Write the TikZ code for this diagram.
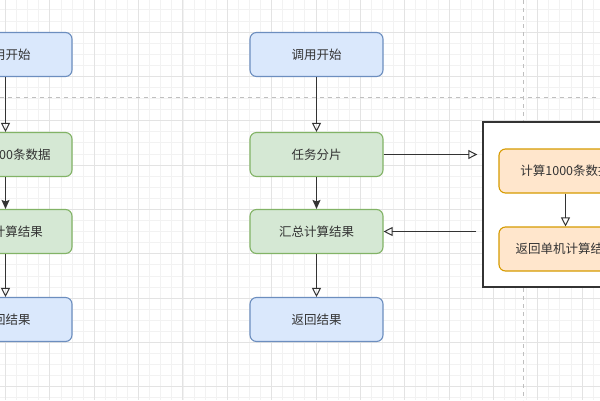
\documentclass[tikz,border=0pt]{standalone}
\usepackage{fontspec}
\newfontfamily\cjk{Noto Sans CJK SC}
\usetikzlibrary{arrows.meta}
\definecolor{bluefill}{HTML}{DAE8FC}
\definecolor{blueline}{HTML}{6C8EBF}
\definecolor{greenfill}{HTML}{D5E8D4}
\definecolor{greenline}{HTML}{82B366}
\definecolor{orangefill}{HTML}{FFE6CC}
\definecolor{orangeline}{HTML}{D79B00}
\definecolor{txt}{HTML}{333333}
\definecolor{edge}{HTML}{333333}
\tikzset{
  box/.style={rectangle, rounded corners=6.5pt, line width=1.1pt, minimum width=133pt, minimum height=44pt, inner sep=0pt, font=\cjk\fontsize{12.5pt}{14pt}\selectfont, text=txt},
  bluebox/.style={box, draw=blueline, fill=bluefill},
  greenbox/.style={box, draw=greenline, fill=greenfill},
  orangebox/.style={box, draw=orangeline, fill=orangefill},
  container/.style={rectangle, draw=black!80, line width=1.4pt, fill=white, minimum width=165pt, minimum height=165pt, inner sep=0pt},
  openarrow/.style={draw=edge, line width=1pt, -{Triangle[open, length=9pt, width=9pt, line width=1pt]}},
  fillarrow/.style={draw=edge, line width=1pt, -{Stealth[length=9pt, width=8pt, inset=1.5pt]}},
  minorgrid/.style={draw=black!5, line width=0.8pt},
  majorgrid/.style={draw=black!11, line width=0.9pt},
  pagebreak/.style={draw=black!25, line width=1pt, dash pattern=on 4pt off 4pt},
}
\begin{document}
\begin{tikzpicture}[x=1pt, y=-1pt]
\useasboundingbox (0,0) rectangle (600,400);
\clip (0,0) rectangle (600,400);
\fill[white] (0,0) rectangle (600,400);
% grid
\foreach \i in {-4,...,56} {
  \draw[minorgrid] ({5.5+\i*11.0875},0) -- ++(0,400);
}
\foreach \i in {-4,...,40} {
  \draw[minorgrid] (0,{32+\i*11.0875}) -- ++(600,0);
}
\foreach \i in {-1,...,14} {
  \draw[majorgrid] ({5.5+\i*44.35},0) -- ++(0,400);
}
\foreach \i in {-1,...,9} {
  \draw[majorgrid] (0,{32+\i*44.35}) -- ++(600,0);
}
\draw[pagebreak] (0,97) -- (600,97);
\draw[pagebreak] (523,0) -- (523,400);

% left column
\node[bluebox] (l1) at (5.5,54.5) {调用开始};
\node[greenbox] (l2) at (5.5,154.5) {计算1000条数据};
\node[greenbox] (l3) at (5.5,231.5) {汇总计算结果};
\node[bluebox] (l4) at (5.5,319.5) {返回结果};

% middle column
\node[bluebox] (m1) at (316.5,54.5) {调用开始};
\node[greenbox] (m2) at (316.5,154.5) {任务分片};
\node[greenbox] (m3) at (316.5,231.5) {汇总计算结果};
\node[bluebox] (m4) at (316.5,319.5) {返回结果};

% container
\node[container] (c) at (565.5,204.5) {};
\node[orangebox] (o1) at (565.5,171) {计算1000条数据};
\node[orangebox] (o2) at (565.5,249) {返回单机计算结果};

% arrows
\draw[openarrow] (l1) -- (l2);
\draw[fillarrow] (l2) -- (l3);
\draw[openarrow] (l3) -- (l4);
\draw[openarrow] (m1) -- (m2);
\draw[fillarrow] (m2) -- (m3);
\draw[openarrow] (m3) -- (m4);
\draw[openarrow, shorten >=5pt] (m2.east) -- (m2.east -| c.west);
\draw[openarrow, shorten <=6pt] (m3.east -| c.west) -- (m3.east);
\draw[openarrow] (o1) -- (o2);
\end{tikzpicture}
\end{document}
